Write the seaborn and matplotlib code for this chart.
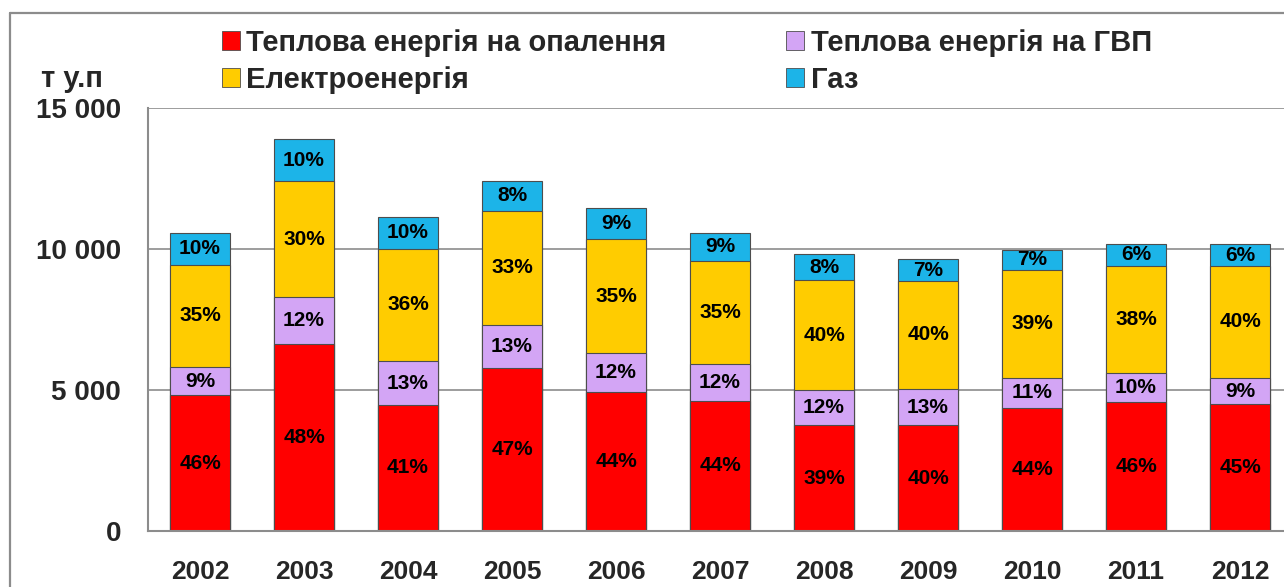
import numpy as np
import pandas as pd
import matplotlib
matplotlib.use('Agg')
import matplotlib.pyplot as plt
import seaborn as sns
from matplotlib.patches import Patch
from matplotlib.lines import Line2D
from matplotlib.ticker import FuncFormatter, FixedLocator

# data (т у.п)
years = ['2002', '2003', '2004', '2005', '2006', '2007', '2008', '2009', '2010', '2011', '2012']
heating = [4820, 6620, 4470, 5770, 4940, 4610, 3750, 3750, 4350, 4570, 4490]
hot_water = [990, 1670, 1550, 1550, 1360, 1310, 1240, 1290, 1090, 1030, 940]
electricity = [3640, 4110, 3990, 4030, 4050, 3660, 3920, 3830, 3810, 3810, 3980]
gas = [1120, 1490, 1140, 1060, 1120, 990, 900, 770, 730, 760, 750]

# percentage labels as printed on the bars
heating_pct = [46, 48, 41, 47, 44, 44, 39, 40, 44, 46, 45]
hot_water_pct = [9, 12, 13, 13, 12, 12, 12, 13, 11, 10, 9]
electricity_pct = [35, 30, 36, 33, 35, 35, 40, 40, 39, 38, 40]
gas_pct = [10, 10, 10, 8, 9, 9, 8, 7, 7, 6, 6]

names = ['Теплова енергія на опалення', 'Теплова енергія на ГВП', 'Електроенергія', 'Газ']
colors = ['#FF0000', '#D3A5F5', '#FFCC00', '#1CB4E8']

sns.set_style('white')
plt.rcParams['font.family'] = ['Liberation Sans', 'DejaVu Sans']
plt.rcParams['font.weight'] = 'bold'

df = pd.DataFrame({'year': years, 'heat': heating, 'hw': hot_water,
                   'el': electricity, 'gas': gas})
cols = ['heat', 'hw', 'el', 'gas']
pcts = {'heat': heating_pct, 'hw': hot_water_pct, 'el': electricity_pct, 'gas': gas_pct}
cum = df[cols].cumsum(axis=1)

W, H = 1284, 587
fig = plt.figure(figsize=(W / 100, H / 100), dpi=100)
ax = fig.add_axes([148 / W, 56 / H, 1144 / W, 423 / H])

# stacked bars: draw the cumulative totals from the top layer down
for col, c in reversed(list(zip(cols, colors))):
    sns.barplot(x=df['year'], y=cum[col], color=c, width=0.58, saturation=1,
                edgecolor='#4d4d4d', linewidth=0.8, ax=ax)

for col in cols:
    for i in range(len(years)):
        yc = cum[col][i] - df[col][i] / 2
        ax.text(i, yc, f'{pcts[col][i]}%', ha='center', va='center',
                fontsize=15, fontweight='bold', color='black')

ax.set_xlim(-0.5, 10.5)
ax.set_ylim(0, 15000)
ax.set_yticks([0, 5000, 10000, 15000])
ax.yaxis.set_major_formatter(FuncFormatter(lambda v, p: f'{int(v):,}'.replace(',', ' ')))
ax.xaxis.set_minor_locator(FixedLocator(np.arange(-0.5, 11, 1)))
ax.set_xlabel('')
ax.set_ylabel('')

gray = '#8c8c8c'
ax.grid(axis='y', color=gray, lw=1.2)
ax.set_axisbelow(True)
for s in ['top', 'right']:
    ax.spines[s].set_visible(False)
for s in ['left', 'bottom']:
    ax.spines[s].set_color(gray)
    ax.spines[s].set_linewidth(1.5)
ax.tick_params(axis='y', length=6.5, width=1.2, color=gray, pad=13, labelsize=20)
ax.tick_params(axis='x', which='major', length=0, pad=21, labelsize=19)
ax.tick_params(axis='x', which='minor', length=5, width=1.2, color=gray, direction='out')
for lab in ax.get_xticklabels() + ax.get_yticklabels():
    lab.set_fontweight('bold')

# legend, two columns
handles = [Patch(facecolor=c, edgecolor='#4d4d4d', lw=0.6) for c in colors]
order = [0, 2, 1, 3]
fig.legend([handles[k] for k in order], [names[k] for k in order], ncol=2,
           loc='upper left', bbox_to_anchor=(222 / W, 1 - 29 / H), frameon=False,
           prop={'size': 21, 'weight': 'bold'}, handlelength=0.62, handleheight=0.62,
           handletextpad=0.22, columnspacing=4.1, labelspacing=0.3, borderpad=0,
           borderaxespad=0)

fig.text(72 / W, 1 - 79 / H, 'т у.п', ha='center', va='center', fontsize=21, fontweight='bold')

# outer chart frame (cropped at right and bottom)
fig.add_artist(Line2D([10 / W, 10 / W], [0, 1 - 13 / H], color=gray, lw=1.6))
fig.add_artist(Line2D([10 / W, 1], [1 - 13 / H, 1 - 13 / H], color=gray, lw=1.6))

fig.savefig('out.png', dpi=100)
